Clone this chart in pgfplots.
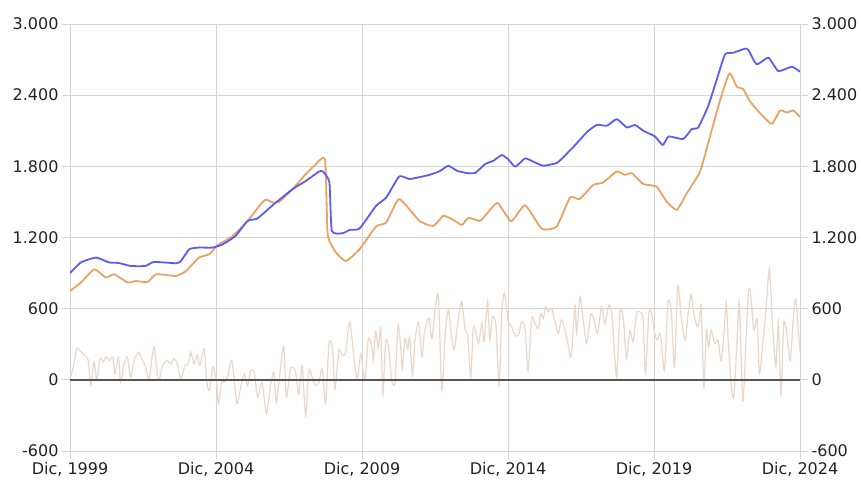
\documentclass[border=0pt]{standalone}
\usepackage{pgfplots}
\pgfplotsset{compat=1.18}
\usepackage{fontspec}
\setmainfont{DejaVu Sans}
\definecolor{bl}{HTML}{5C5CEE}
\definecolor{orl}{HTML}{EAA262}
\definecolor{tn}{HTML}{EAD8CA}
\definecolor{gr}{HTML}{D4D4D4}
\definecolor{tx}{HTML}{222222}
\definecolor{zl}{HTML}{555555}
\pgfplotsset{
  base/.style={
    at={(0,0)}, anchor=south west, scale only axis,
    width=730pt, height=427pt,
    xmin=0, xmax=300, ymin=-600, ymax=3000,
    ytick={-600,0,600,1200,1800,2400,3000},
    tick label style={font=\fontsize{16}{19}\selectfont, color=tx},
    tick style={gr, line width=0.8pt},
    major tick length=8pt, tick align=outside,
    /pgf/number format/1000 sep={.},
    /pgf/number format/assume math mode=true,
  }
}
\begin{document}
\begin{tikzpicture}
\useasboundingbox (-70pt,-33pt) rectangle (791pt,451pt);
\begin{axis}[base,
  xtick={0,60,120,180,240,300},
  xticklabels={{Dic, 1999},{Dic, 2004},{Dic, 2009},{Dic, 2014},{Dic, 2019},{Dic, 2024}},
  xtick pos=bottom, ytick pos=left,
  grid=major, major grid style={gr, line width=0.8pt},
  axis line style={gr, line width=0.8pt},
]
% monthly change series
\addplot[tn, line width=1.25pt, smooth, tension=0.4] coordinates {
(0,10)(1.4,107)(2.8,262)(4.6,234)(6.5,197)(7.5,164)(8.5,-48)(9.9,150)(11,-6)(12.3,178)(13.7,150)(14.8,192)(16.2,164)(17.6,192)(18.5,51)(19.9,192)(20.8,-20)(22.2,135)(23.6,192)(24.9,22)(26.4,164)(28.1,234)(29.5,178)(31.1,107)(32.5,0)(34.5,276)(36.3,-6)(38.1,121)(39.8,164)(41.4,135)(42.8,178)(44.1,135)(45.5,8)(47.3,121)(48.6,135)(49.6,234)(51,135)(52.3,206)(53.4,121)(55.1,262)(56.2,-20)(57.3,-90)(58.7,107)(60.3,-34)
(61,-203)(62.4,-6)(63.3,-20)(64.7,22)(66.5,164)(68.6,-203)(69.9,-90)(71.6,51)(73,-48)(74.3,79)(75.7,65)(77.1,-147)(78.9,-20)(80.7,-288)(82.3,-62)(83.7,65)(84.8,-189)(86.4,79)(87.8,290)(88.9,-147)(90.6,93)(92.6,79)(94,-118)(95.4,121)(96.8,-302)(98.2,79)(99.5,22)(100.9,-48)(102.3,-20)(103.7,93)(105,-203)(106.4,304)(107.8,276)(108.9,-76)(110.5,248)(111.9,206)(113.3,234)(115,488)(116.8,164)(118.1,8)(119.5,220)
(121.2,-6)(122.6,348)(124,277)(124.7,164)(125.6,405)(126.7,263)(127.7,433)(128.6,-119)(129.7,320)(130.8,291)(132.2,-6)(133.6,-20)(134.8,461)(135.9,277)(136.6,93)(137.7,348)(138.8,263)(139.6,362)(140.7,37)(141.8,334)(143.2,490)(144.6,192)(145.5,376)(146.5,475)(147.6,518)(148.7,348)(150.1,603)(151.4,702)(152.8,-90)(154.2,390)(155.5,589)(156.5,419)(157.9,249)(159.2,461)(160.9,659)(162.4,419)(163.4,376)(164.7,23)(165.7,433)(166.8,405)(167.9,306)(169.3,475)(170.2,320)(171.6,659)(172.5,334)(173.6,532)(175,461)(176.4,-48)(177.5,589)(178.6,730)(180,500)
(181.5,447)(182.9,376)(184.3,376)(185.6,490)(187,433)(188.3,79)(189.7,518)(191.1,475)(192.4,433)(193.5,560)(194.5,518)(195.4,617)(196.6,574)(197.9,603)(199.3,490)(200.7,390)(202,504)(204.1,362)(205.9,192)(207.5,631)(208.2,390)(209.6,702)(211,490)(212.3,306)(214.1,560)(215.5,490)(216.8,390)(218.5,617)(219.8,475)(221.5,631)(222.8,532)(224.6,23)(226,574)(227.3,532)(228.7,178)(230.1,419)(231.4,320)(232.8,560)(234.1,574)(235.5,518)(236.5,51)(237.9,560)(239,560)
(240.2,406)(241.3,334)(242.6,391)(244.3,77)(245.7,649)(247.1,591)(248.4,106)(249.8,791)(251.2,520)(252.8,334)(253.9,534)(255.3,720)(256.4,549)(257.8,449)(258.7,506)(259.4,620)(260.5,-66)(261.5,420)(262.4,277)(263.5,420)(264.9,306)(266.3,334)(267.6,163)(268.7,377)(269.7,649)(270.4,363)(271.7,-37)(272.8,-151)(274.2,363)(275.1,649)(276.5,-180)(277.9,377)(278.8,734)(279.6,749)(281,420)(282.4,506)(283.3,49)(284.7,306)(286,577)(287.4,934)(288.8,434)(290.1,106)(291.1,491)(292.2,-123)(293.3,477)(294.6,391)(296,163)(297.4,563)(298.3,677)(300,234)
};
% zero line
\addplot[zl, line width=1.5pt] coordinates {(0,0)(300,0)};
% orange series
\addplot[orl, line width=1.8pt, line join=round, smooth, tension=0.3] coordinates {
(0,749)(4.5,820)(10,932)(14.8,862)(18.2,890)(23.7,820)(27,833)(32,825)(35.3,890)(43.6,876)(47.7,918)(53,1031)(57.3,1059)(60.7,1135)(66.9,1213)(73,1340)(79.9,1515)(83.3,1496)(86,1501)(91.5,1608)(96.3,1721)(100.4,1805)(104.8,1856)(105.9,1228)(109.3,1073)(113.4,1002)(119,1101)(125.8,1293)(130,1327)(135.3,1524)(143.6,1340)(149.3,1297)(153.4,1383)(157.5,1349)(161,1305)(163.7,1365)(168.5,1340)(171,1393)(175.7,1491)(181.3,1337)(187,1472)(193.9,1273)(200,1292)(205.5,1538)(209.4,1524)(215,1643)(219,1663)(224.7,1756)(228,1728)(230.9,1742)(235.6,1651)(241,1629)(245.2,1503)(249.4,1433)(253.5,1574)(258.9,1756)(263,2051)(267,2346)(271,2585)(274,2472)(276.7,2450)(279.5,2346)(283.6,2248)(288.4,2158)(291.8,2270)(294.6,2254)(297.3,2270)(300,2215)
};
% blue series
\addplot[bl, line width=1.8pt, line join=round, smooth, tension=0.3] coordinates {
(0,900)(4.5,990)(10.7,1031)(16,990)(20,985)(25,960)(31,960)(34.5,994)(43.5,983)(45.6,1002)(49,1101)(53,1115)(58.6,1115)(62.8,1143)(68,1213)(73,1340)(77,1360)(83,1467)(91.5,1608)(97,1678)(102.5,1758)(104,1755)(106.6,1665)(107.6,1256)(112,1236)(115,1264)(119,1276)(125.8,1467)(130,1538)(135.3,1715)(139.5,1693)(145,1715)(148,1730)(152,1760)(155.5,1805)(159,1763)(163,1744)(166.5,1744)(170.6,1819)(174,1847)(177.4,1895)(180,1861)(183,1797)(187,1867)(190.4,1839)(194.5,1805)(200,1828)(202.7,1876)(208,1988)(212.3,2086)(216.5,2150)(220.6,2142)(224.7,2198)(228.8,2128)(232.2,2148)(235.6,2100)(240.4,2052)(243.6,1979)(246,2052)(252,2030)(255.5,2114)(258.2,2128)(262.3,2310)(265.8,2533)(269.2,2744)(272.6,2758)(277.4,2792)(278.8,2780)(282.2,2660)(287,2716)(291.1,2603)(296.6,2640)(300,2598)
};
\end{axis}
\begin{axis}[base,
  axis x line=none, axis y line*=right,
  axis line style={gr, line width=0.8pt, -},
  yticklabel pos=right,
]
\end{axis}
\end{tikzpicture}
\end{document}
